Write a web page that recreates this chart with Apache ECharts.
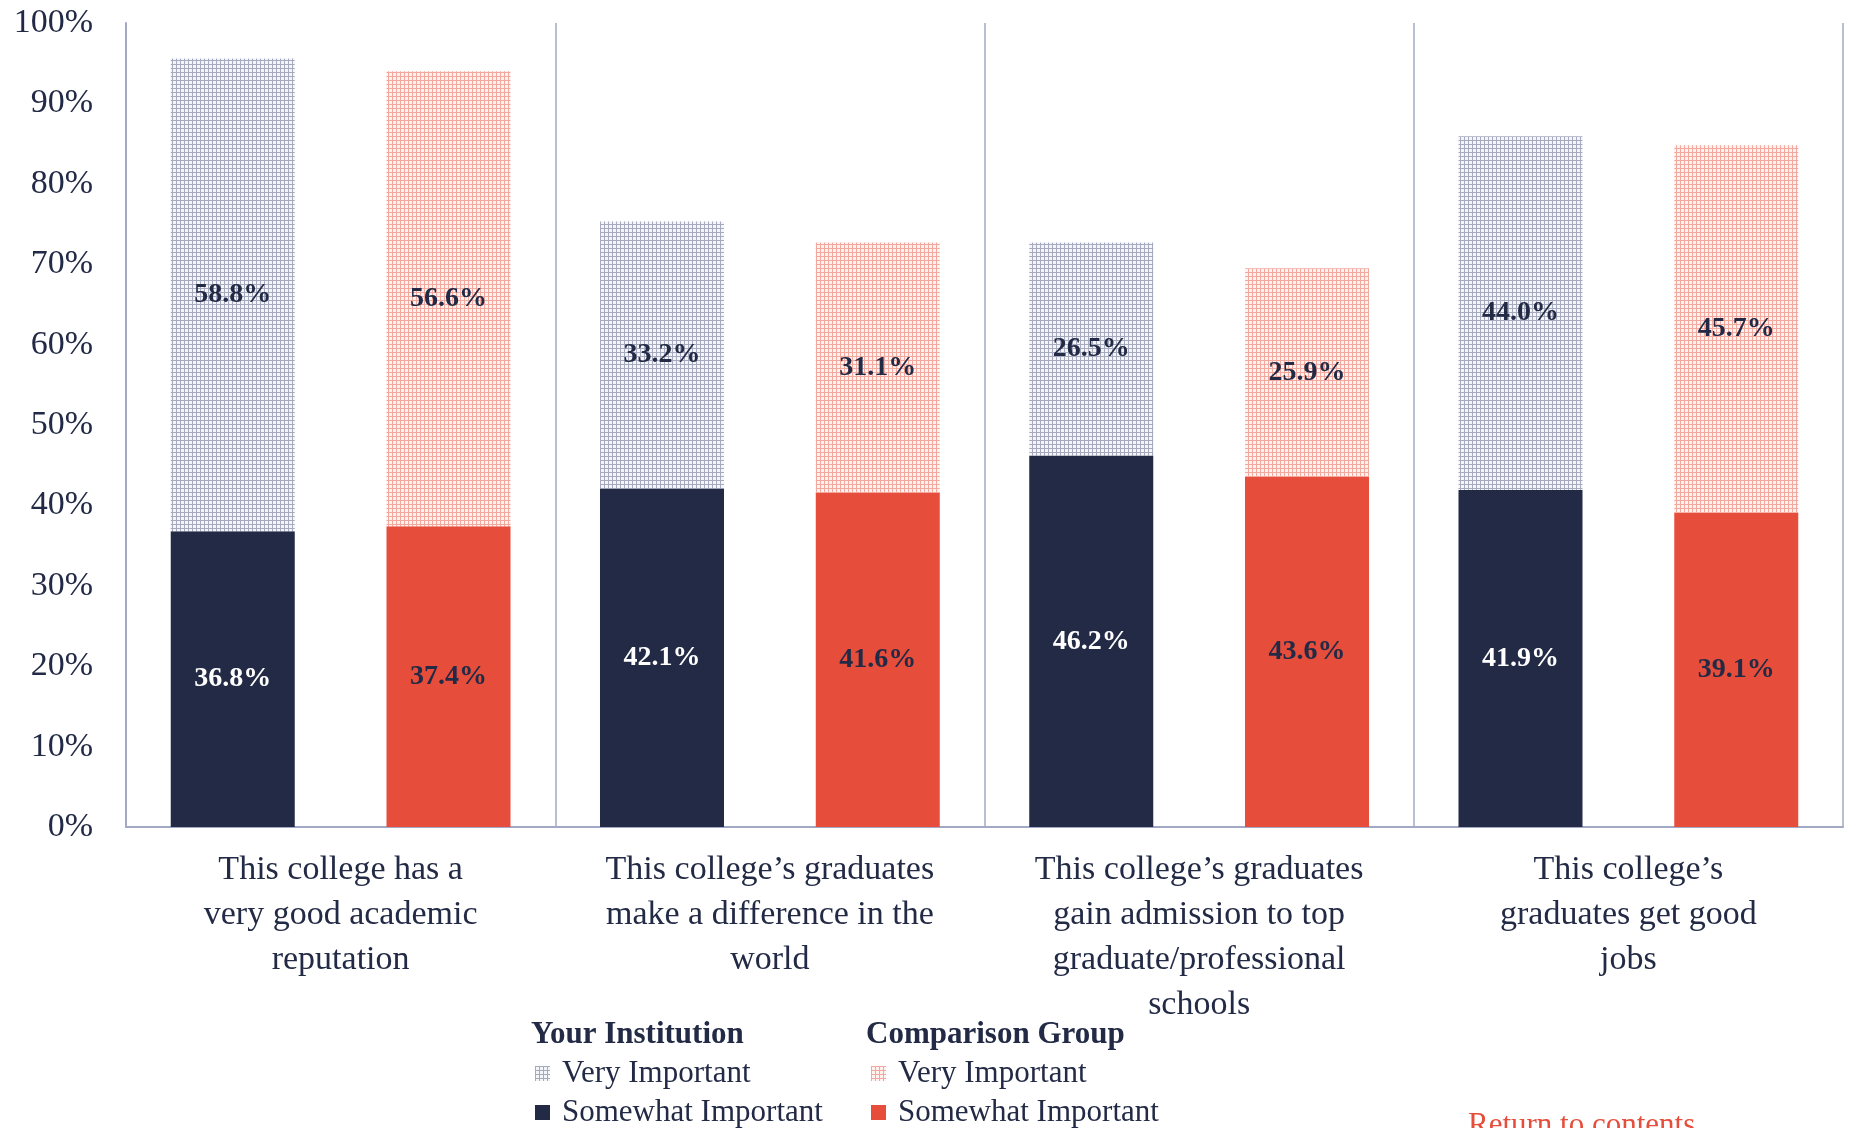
<!DOCTYPE html>
<html>
<head>
<meta charset="utf-8">
<title>Reasons for choosing this college</title>
<script src="https://cdn.jsdelivr.net/npm/echarts@6/dist/echarts.min.js"></script>
<style>
  html, body { margin: 0; padding: 0; background: #ffffff; }
  #chart { width: 1850px; height: 1128px; }
</style>
</head>
<body>
<div id="chart"></div>
<script>
// Statements rated by respondents
const categories = [
  'This college has a\nvery good academic\nreputation',
  'This college\u2019s graduates\nmake a difference in the\nworld',
  'This college\u2019s graduates\ngain admission to top\ngraduate/professional\nschools',
  'This college\u2019s\ngraduates get good\njobs'
];

// Share of respondents (%)
const yourSomewhat = [36.8, 42.1, 46.2, 41.9];
const yourVery = [58.8, 33.2, 26.5, 44.0];
const compSomewhat = [37.4, 41.6, 43.6, 39.1];
const compVery = [56.6, 31.1, 25.9, 45.7];

const yTicks = [0, 10, 20, 30, 40, 50, 60, 70, 80, 90, 100];

const NAVY = '#222a45';
const RED = '#e64d3b';
const AXIS = '#a3a9c4';
const FONT = '"Liberation Serif", "DejaVu Serif", serif';

// Fine grid fill used for the "Very Important" segments
function gridPattern(lineColor, bg) {
  const c = document.createElement('canvas');
  c.width = 4; c.height = 4;
  const ctx = c.getContext('2d');
  ctx.fillStyle = bg;
  ctx.fillRect(0, 0, 4, 4);
  ctx.fillStyle = lineColor;
  ctx.fillRect(0, 0, 4, 1);
  ctx.fillRect(0, 0, 1, 4);
  return { image: c, repeat: 'repeat' };
}

const navyGrid = gridPattern('#a6aabe', '#f5f5f8');
const redGrid = gridPattern('#f3a89e', '#fdf2f0');

function pct(p) { return p.value.toFixed(1) + '%'; }

function barLabel(color) {
  return {
    show: true,
    position: 'inside',
    formatter: pct,
    color: color,
    fontFamily: FONT,
    fontWeight: 'bold',
    fontSize: 28
  };
}

const chart = echarts.init(document.getElementById('chart'), null, { renderer: 'canvas' });

const legendText = {
  color: NAVY, fontFamily: FONT, fontSize: 31, lineHeight: 30,
  padding: [0, 0, 0, 7]
};

function groupLegend(left, names) {
  return {
    orient: 'vertical',
    left: left,
    top: 1058,
    padding: 0,
    icon: 'rect',
    itemWidth: 15,
    itemHeight: 15,
    itemGap: 8,
    textStyle: legendText,
    formatter: n => n.split(': ')[1],
    data: names
  };
}

chart.setOption({
  animation: false,
  backgroundColor: '#ffffff',
  grid: { left: 126, right: 7, top: 23, bottom: 301, containLabel: false },
  xAxis: {
    type: 'category',
    data: categories,
    axisLine: { show: true, lineStyle: { color: AXIS, width: 2 } },
    axisTick: { show: false },
    splitLine: { show: true, lineStyle: { color: AXIS, width: 1.5 } },
    axisLabel: {
      interval: 0,
      margin: 21,
      color: NAVY,
      fontFamily: FONT,
      fontSize: 34,
      lineHeight: 45,
      align: 'center'
    }
  },
  yAxis: {
    type: 'value',
    min: yTicks[0],
    max: yTicks[yTicks.length - 1],
    interval: 10,
    axisLine: { show: true, lineStyle: { color: AXIS, width: 2 } },
    axisTick: { show: false },
    splitLine: { show: false },
    axisLabel: {
      margin: 33,
      color: NAVY,
      fontFamily: FONT,
      fontSize: 34,
      formatter: '{value}%'
    }
  },
  legend: [
    groupLegend(535, ['Your Institution: Very Important', 'Your Institution: Somewhat Important']),
    groupLegend(871, ['Comparison Group: Very Important', 'Comparison Group: Somewhat Important'])
  ],
  graphic: [
    {
      type: 'text', left: 531, top: 1019,
      style: { text: 'Your Institution', fill: NAVY, font: 'bold 31px ' + FONT }
    },
    {
      type: 'text', left: 866, top: 1019,
      style: { text: 'Comparison Group', fill: NAVY, font: 'bold 31px ' + FONT }
    },
    {
      type: 'text', left: 1468, top: 1110,
      style: { text: 'Return to contents', fill: RED, font: '31px ' + FONT }
    }
  ],
  series: [
    {
      name: 'Your Institution: Somewhat Important',
      type: 'bar', stack: 'your',
      barWidth: 124, barGap: '74%',
      data: yourSomewhat,
      itemStyle: { color: NAVY },
      label: barLabel('#ffffff')
    },
    {
      name: 'Your Institution: Very Important',
      type: 'bar', stack: 'your',
      barWidth: 124, barGap: '74%',
      data: yourVery,
      itemStyle: { color: navyGrid },
      label: barLabel(NAVY)
    },
    {
      name: 'Comparison Group: Somewhat Important',
      type: 'bar', stack: 'comp',
      barWidth: 124, barGap: '74%',
      data: compSomewhat,
      itemStyle: { color: RED },
      label: barLabel(NAVY)
    },
    {
      name: 'Comparison Group: Very Important',
      type: 'bar', stack: 'comp',
      barWidth: 124, barGap: '74%',
      data: compVery,
      itemStyle: { color: redGrid },
      label: barLabel(NAVY)
    }
  ]
});
</script>
</body>
</html>
